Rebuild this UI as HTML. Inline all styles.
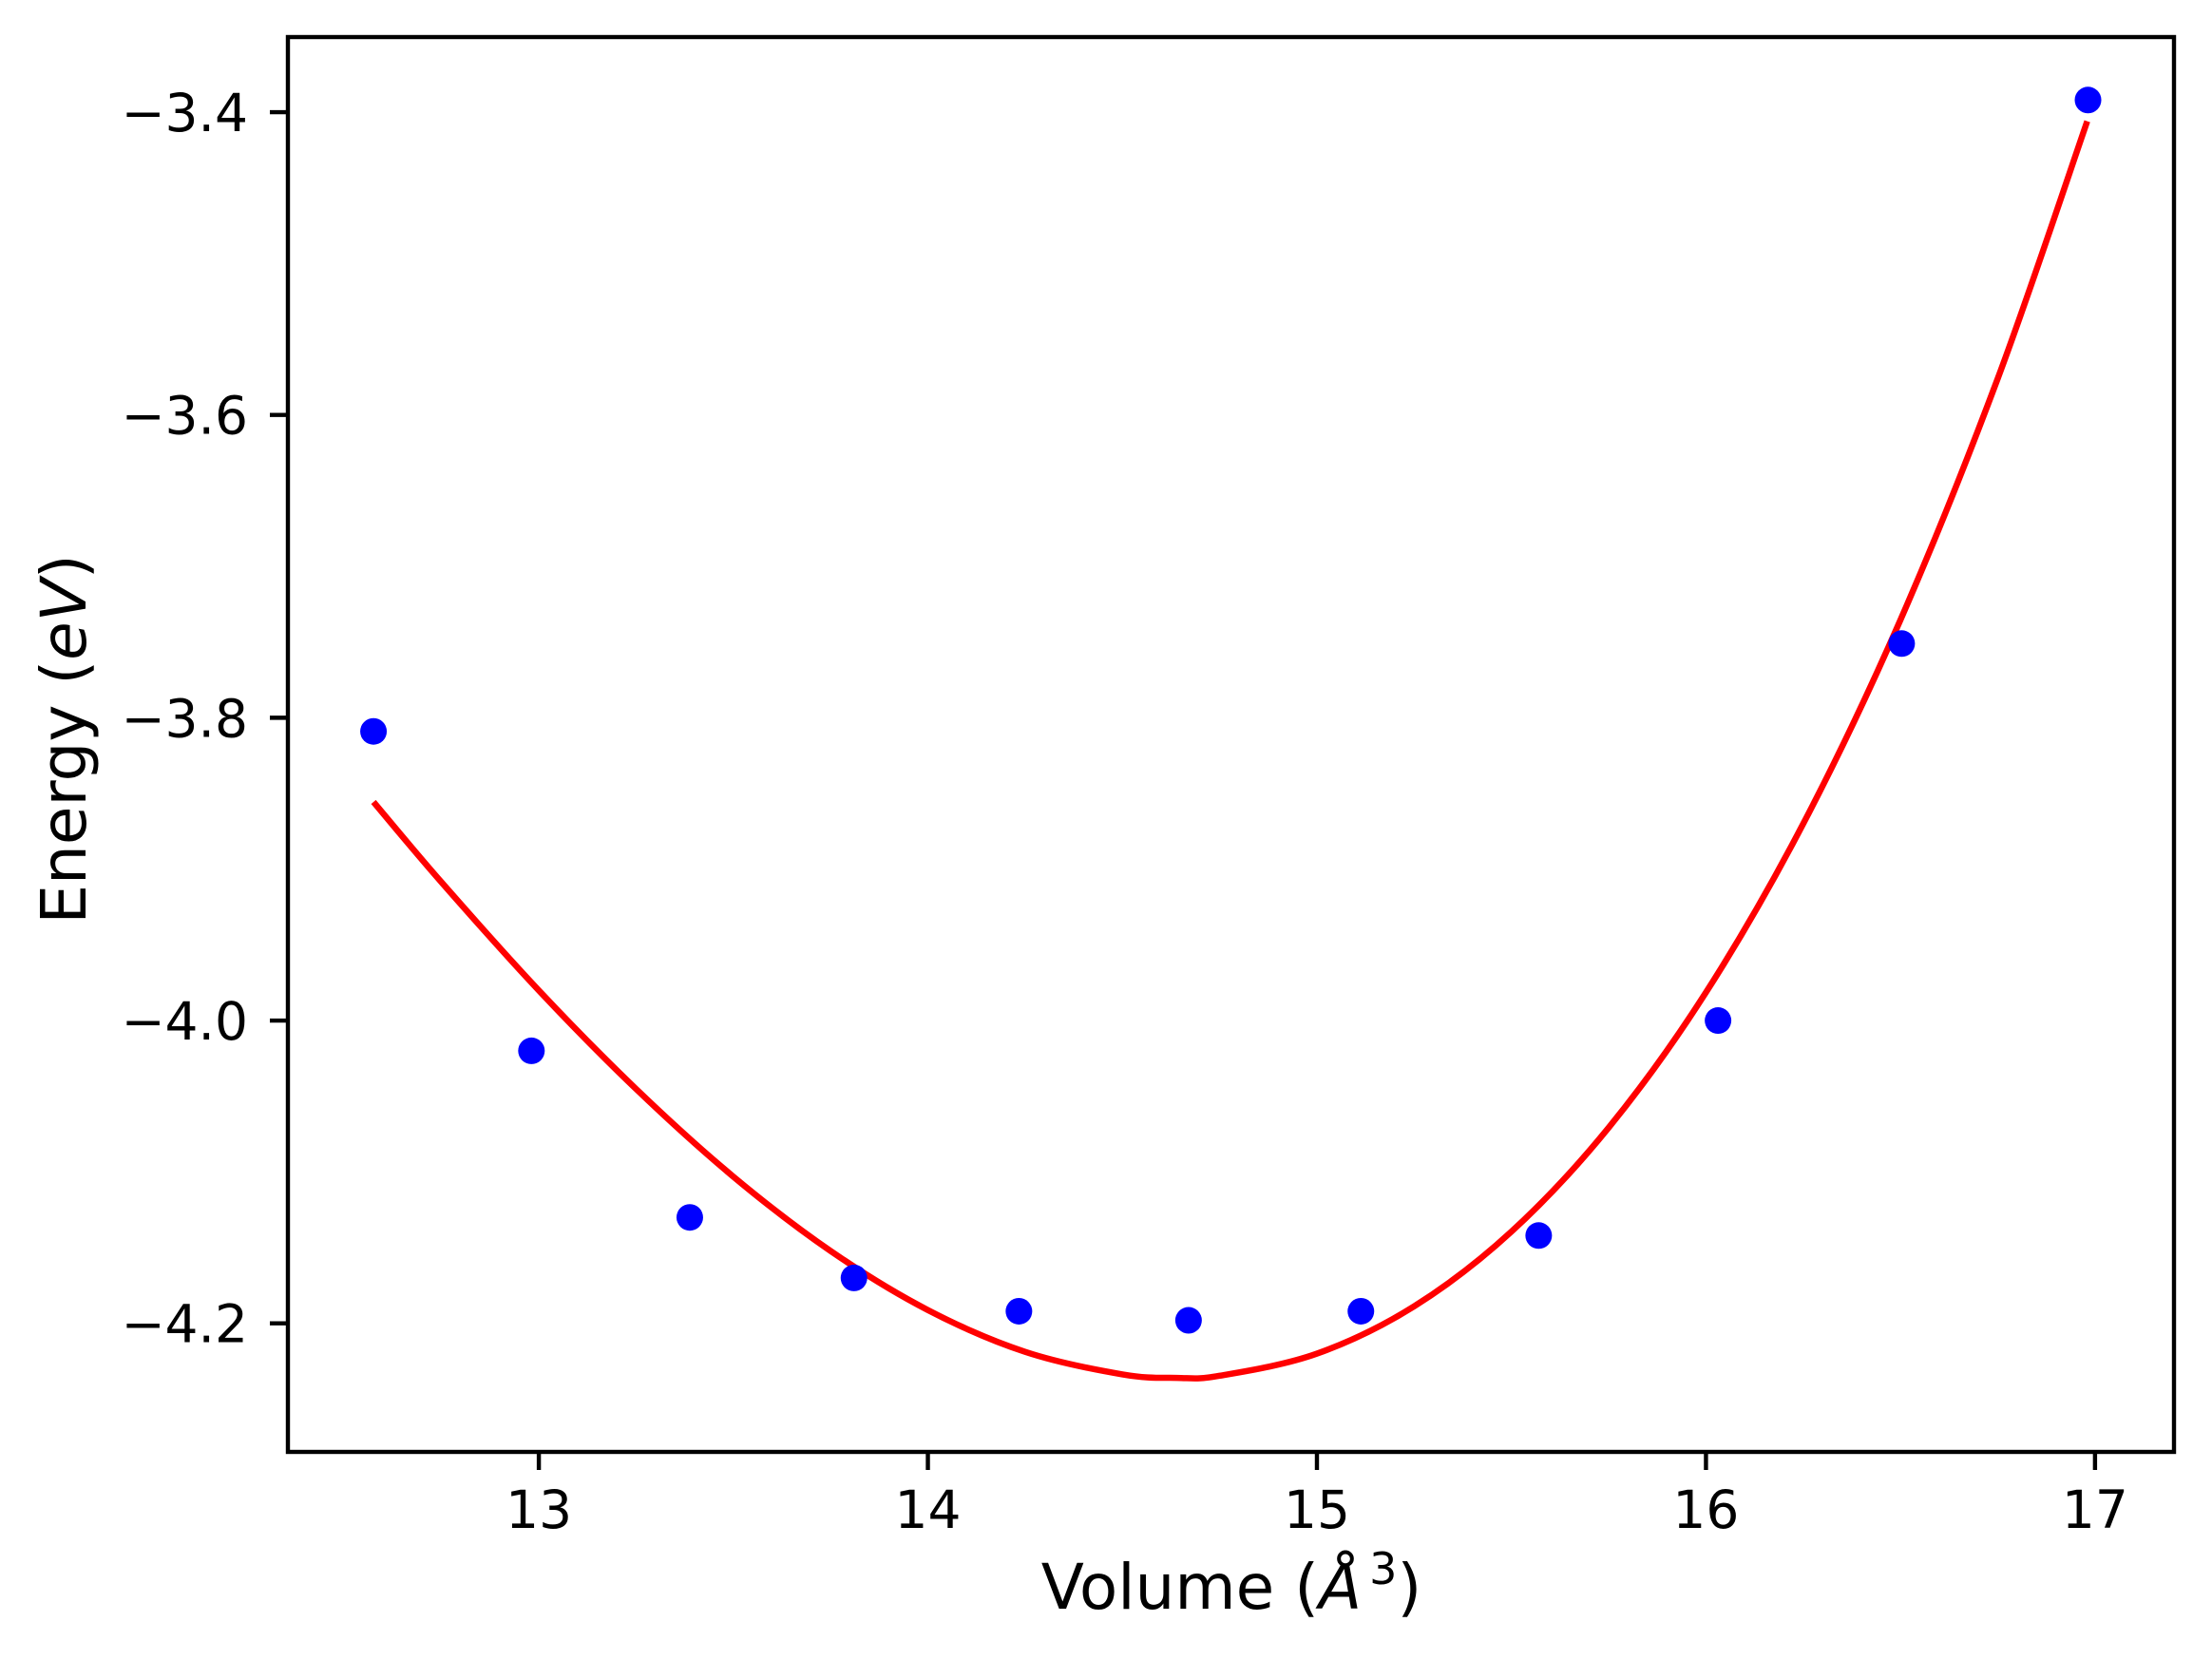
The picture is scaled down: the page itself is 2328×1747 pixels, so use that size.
<!DOCTYPE html>
<html><head><meta charset="utf-8"><style>
html,body{margin:0;padding:0;background:#fff}
svg{display:block}
text{font-family:"DejaVu Sans","Liberation Sans",sans-serif;fill:#000}
</style></head><body>
<svg id="chart" width="2328" height="1747" viewBox="0 0 2328 1747" xmlns="http://www.w3.org/2000/svg">
<rect x="0" y="0" width="2328" height="1747" fill="#fff"/>
<g id="plot"></g>
<g id="axes"></g>
</svg>
<script>
const xTicks = [13, 14, 15, 16, 17];
const xTickLabels = ["13", "14", "15", "16", "17"];
const yTicks = [-3.4, -3.6, -3.8, -4.0, -4.2];
const yTickLabels = ["\u22123.4", "\u22123.6", "\u22123.8", "\u22124.0", "\u22124.2"];
const volumes = [12.575, 12.981, 13.388, 13.81, 14.234, 14.670, 15.113, 15.570, 16.031, 16.503, 16.982];
const energies = [-3.809, -4.020, -4.130, -4.170, -4.192, -4.198, -4.192, -4.142, -4.000, -3.751, -3.392];
const fitVolumes = [12.575, 12.75, 13.0, 13.25, 13.5, 13.75, 14.0, 14.25, 14.5, 14.64, 14.75, 15.0, 15.25, 15.5, 15.75, 16.0, 16.25, 16.5, 16.75, 16.98];
const fitEnergies = [-3.8556, -3.9087, -3.9801, -4.0452, -4.1031, -4.1522, -4.1912, -4.2188, -4.2337, -4.236, -4.2346, -4.2200, -4.1887, -4.1394, -4.0707, -3.9814, -3.8700, -3.7353, -3.5759, -3.406];

const L = 303, R = 2288, T = 39, B = 1528;
const xMin = 12.355, xMax = 17.203, yMin = -4.2849, yMax = -3.3504;
const sx = v => L + (v - xMin) / (xMax - xMin) * (R - L);
const sy = v => B - (v - yMin) / (yMax - yMin) * (B - T);
const NS = "http://www.w3.org/2000/svg";
const plot = document.getElementById('plot');
const axes = document.getElementById('axes');
function mk(tag, attrs, parent) {
  const el = document.createElementNS(NS, tag);
  for (const k in attrs) el.setAttribute(k, attrs[k]);
  parent.appendChild(el);
  return el;
}
const pts = fitVolumes.map((v, i) => [sx(v), sy(fitEnergies[i])]);
let d = `M${pts[0][0]},${pts[0][1]}`;
for (let i = 0; i < pts.length - 1; i++) {
  const p0 = pts[Math.max(0, i - 1)], p1 = pts[i], p2 = pts[i + 1], p3 = pts[Math.min(pts.length - 1, i + 2)];
  const c1 = [p1[0] + (p2[0] - p0[0]) / 6, p1[1] + (p2[1] - p0[1]) / 6];
  const c2 = [p2[0] - (p3[0] - p1[0]) / 6, p2[1] - (p3[1] - p1[1]) / 6];
  d += ` C${c1[0]},${c1[1]} ${c2[0]},${c2[1]} ${p2[0]},${p2[1]}`;
}
const curve = mk('path', {d: d, fill: 'none', stroke: '#ff0000', 'stroke-width': 6.5}, plot);


volumes.forEach((v, i) => {
  const c = mk('circle', {cx: sx(v), cy: sy(energies[i]), r: 14, fill: '#0000ff'}, plot);
  
  
});
const frame = mk('rect', {x: L, y: T, width: R - L, height: B - T, fill: 'none', stroke: '#000', 'stroke-width': 4.4}, axes);


xTicks.forEach((v, i) => {
  const x = sx(v);
  const t = mk('line', {x1: x, x2: x, y1: B, y2: B + 19, stroke: '#000', 'stroke-width': 4.4}, axes);
  
  
  const lb = mk('text', {x: x, y: B + 80, 'text-anchor': 'middle', 'font-size': 55}, axes);
  lb.textContent = xTickLabels[i];
  
  
});
yTicks.forEach((v, i) => {
  const y = sy(v);
  const t = mk('line', {x1: L - 19, x2: L, y1: y, y2: y, stroke: '#000', 'stroke-width': 4.4}, axes);
  
  
  const lb = mk('text', {x: 261, y: y + 20, 'text-anchor': 'end', 'font-size': 55}, axes);
  lb.textContent = yTickLabels[i];
  
  
});
</script>
<svg style="position:absolute;left:0;top:0" width="2328" height="1747">
<text x="1296" y="1693" text-anchor="middle" font-size="66">Volume (<tspan font-style="italic">Å</tspan><tspan font-size="46" dx="8" dy="-26">3</tspan><tspan dy="26">)</tspan></text>
<text transform="translate(90,778) rotate(-90)" text-anchor="middle" font-size="66">Energy (<tspan font-style="italic">eV</tspan>)</text>
</svg>
</body></html>
